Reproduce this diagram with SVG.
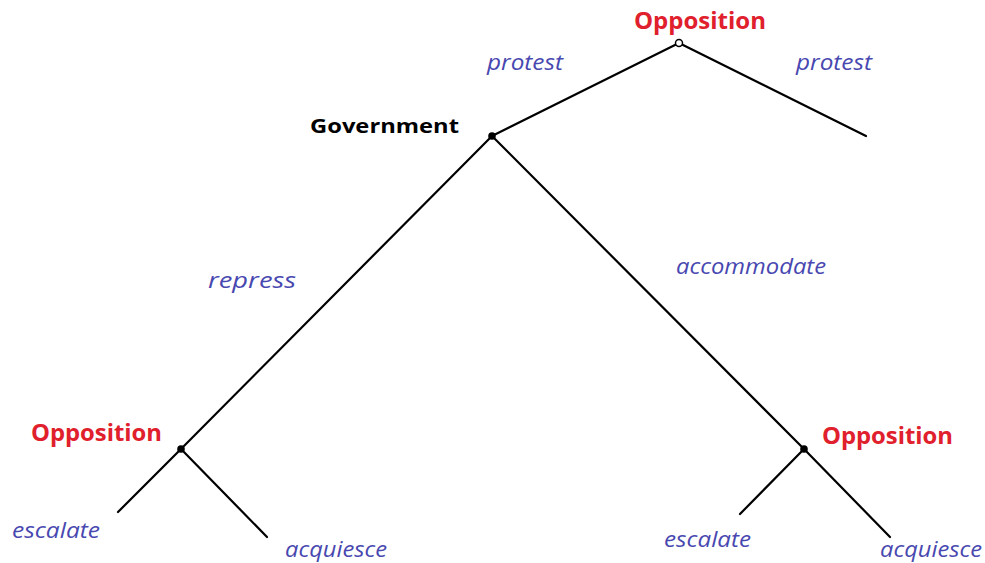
<svg xmlns="http://www.w3.org/2000/svg" width="985" height="563" viewBox="0 0 985 563">
<style>
.edge{stroke:#000;stroke-width:2.2;fill:none;stroke-linecap:round}
.pl{font-family:"Open Sans","Liberation Sans",sans-serif;font-weight:bold;font-size:23px}
.opp{fill:#E0202C}
.gov{fill:#000;font-size:20px}
.act{font-family:"Open Sans","Liberation Sans",sans-serif;font-style:italic;font-size:21px;fill:#4848B0}
.dot{fill:#000}
</style>
<rect width="985" height="563" fill="#fff"/>
<g id="connectors">
<line class="edge" x1="679" y1="43" x2="492" y2="136"/>
<line class="edge" x1="679" y1="43" x2="866" y2="136"/>
<line class="edge" x1="492" y1="136" x2="181" y2="449"/>
<line class="edge" x1="492" y1="136" x2="804" y2="449"/>
<line class="edge" x1="181" y1="449" x2="118" y2="512"/>
<line class="edge" x1="181" y1="449" x2="267" y2="537"/>
<line class="edge" x1="804" y1="449" x2="740" y2="514"/>
<line class="edge" x1="804" y1="449" x2="890" y2="537"/>
</g>
<g id="node-top">
<circle cx="679" cy="43" r="3.5" fill="#fff" stroke="#000" stroke-width="1.5"/>
<text class="pl opp" x="634" y="29" textLength="132" lengthAdjust="spacingAndGlyphs">Opposition</text>
</g>
<g id="node-gov">
<circle class="dot" cx="492" cy="136" r="3.8"/>
<text class="pl gov" x="310" y="133" textLength="149" lengthAdjust="spacingAndGlyphs">Government</text>
</g>
<g id="node-left">
<circle class="dot" cx="181" cy="449" r="3.8"/>
<text class="pl opp" x="31" y="441" textLength="131" lengthAdjust="spacingAndGlyphs">Opposition</text>
</g>
<g id="node-right">
<circle class="dot" cx="804" cy="449" r="3.8"/>
<text class="pl opp" x="822" y="444" textLength="131" lengthAdjust="spacingAndGlyphs">Opposition</text>
</g>
<g id="labels">
<text class="act" x="487" y="70" textLength="76" lengthAdjust="spacingAndGlyphs">protest</text>
<text class="act" x="796" y="70" textLength="76" lengthAdjust="spacingAndGlyphs">protest</text>
<text class="act" x="208" y="288" font-size="25" textLength="88" lengthAdjust="spacingAndGlyphs">repress</text>
<text class="act" x="676" y="274" textLength="150" lengthAdjust="spacingAndGlyphs">accommodate</text>
<text class="act" x="12" y="538" textLength="88" lengthAdjust="spacingAndGlyphs">escalate</text>
<text class="act" x="285" y="557" textLength="102" lengthAdjust="spacingAndGlyphs">acquiesce</text>
<text class="act" x="664" y="547" textLength="87" lengthAdjust="spacingAndGlyphs">escalate</text>
<text class="act" x="880" y="557" textLength="102" lengthAdjust="spacingAndGlyphs">acquiesce</text>
</g>
</svg>
